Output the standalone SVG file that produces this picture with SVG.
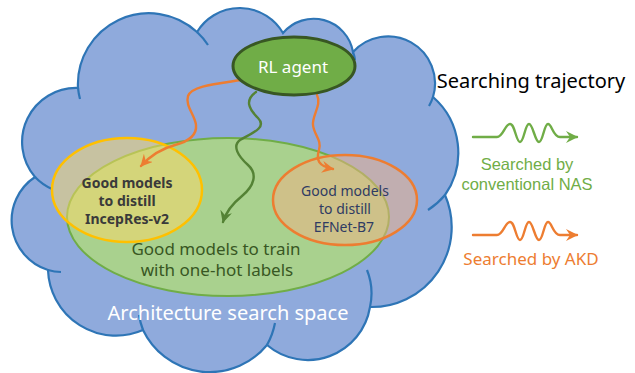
<svg xmlns="http://www.w3.org/2000/svg" width="635" height="373" viewBox="0 0 635 373">
<style>
text{font-family:"Noto Sans","Open Sans","DejaVu Sans",sans-serif;text-anchor:middle}
.cloud{fill:#8FAADC;stroke:#2E75B6;stroke-width:2.2}
.tail{fill:none;stroke:#2E75B6;stroke-width:2.2}
.conn{fill:none;stroke-width:2.4;stroke-linecap:round}
.or{stroke:#ED7D31}
.gr{stroke:#548235}
.lg{stroke:#70AD47}
.inner{font-size:14px}
.leg{font-family:"Liberation Sans",Arial,sans-serif;font-size:16.5px}
</style>
<defs>
<marker id="ah-or" markerUnits="userSpaceOnUse" markerWidth="13" markerHeight="12" refX="11" refY="6" orient="auto" viewBox="0 0 13 12"><path d="M0,0 L12,6 L0,12 L4,6 Z" fill="#ED7D31"/></marker>
<marker id="ah-gr" markerUnits="userSpaceOnUse" markerWidth="13" markerHeight="12" refX="11" refY="6" orient="auto" viewBox="0 0 13 12"><path d="M0,0 L12,6 L0,12 L4,6 Z" fill="#548235"/></marker>
<marker id="ah-lg" markerUnits="userSpaceOnUse" markerWidth="13" markerHeight="12" refX="11" refY="6" orient="auto" viewBox="0 0 13 12"><path d="M0,0 L12,6 L0,12 L4,6 Z" fill="#70AD47"/></marker>
</defs>

<g id="search-space">
<path class="cloud" d="M78,88 A71,71 0 0 1 197,32 A50,50 0 0 1 283,33 A40,40 0 0 1 353,52 A47,47 0 0 1 433,97 A74,74 0 0 1 445,195 A80,80 0 0 1 370,307 A63,63 0 0 1 267,345 A74,74 0 0 1 143,330 A68,68 0 0 1 48,270 A52,52 0 0 1 35,177 A54,54 0 0 1 78,88 Z"/>
<path class="tail" d="M78,88 A71,71 0 0 0 80,99 M197,32 A71,71 0 0 1 208,45 M353,52 A40,40 0 0 1 355,60 M433,97 A47,47 0 0 1 429,106 M445,195 A74,74 0 0 1 428,210 M370,307 A63,63 0 0 0 367,270 M267,345 A74,74 0 0 0 275,323 M143,330 A74,74 0 0 1 139,315 M48,270 A52,52 0 0 0 61,272 M35,177 A54,54 0 0 0 52,189"/>
<text x="228" y="320" font-size="20" fill="#FFFFFF">Architecture search space</text>
</g>

<g id="onehot">
<ellipse cx="228" cy="217" rx="161" ry="79" fill="#A9D18E" stroke="#70AD47" stroke-width="2"/>
<text x="216" y="255" font-size="17" fill="#385723">Good models to train</text>
<text x="217" y="276" font-size="17" fill="#385723">with one-hot labels</text>
</g>

<g id="inceptres">
<ellipse cx="127" cy="190" rx="75" ry="52" fill="#FFD966" fill-opacity="0.5" stroke="#FFC000" stroke-width="2.5"/>
<text class="inner" x="127" y="188" font-weight="bold" fill="#3A3A3A">Good models</text>
<text class="inner" x="127" y="206" font-weight="bold" fill="#3A3A3A">to distill</text>
<text class="inner" x="127" y="224" font-weight="bold" fill="#3A3A3A">IncepRes-v2</text>
</g>

<g id="efnet">
<ellipse cx="345" cy="200" rx="72" ry="45" fill="#F4B183" fill-opacity="0.5" stroke="#ED7D31" stroke-width="2.5"/>
<text class="inner" x="345" y="196" fill="#2F3B63">Good models</text>
<text class="inner" x="345" y="214" fill="#2F3B63">to distill</text>
<text class="inner" x="344" y="232" fill="#2F3B63">EFNet-B7</text>
</g>

<g id="connectors">
<path class="conn or" marker-end="url(#ah-or)" d="M241,80 C215,84 192,86 188,96 C185,106 195,115 196,125 C197,135 190,141 175,145 C160,149 150,156 141,166"/>
<path class="conn gr" marker-end="url(#ah-gr)" d="M256,92 C245,100 248,108 258,118 C268,128 250,134 240,140 C232,146 238,156 248,165 C258,174 254,186 242,196 C232,204 226,212 223,222"/>
<path class="conn or" marker-end="url(#ah-or)" d="M317,95 C322,105 312,115 313,125 C314,135 322,140 319,150 C316,160 318,166 333,169"/>
</g>

<g id="rl-agent">
<ellipse cx="294" cy="66" rx="61" ry="29" fill="#70AD47" stroke="#385723" stroke-width="3"/>
<text x="293" y="73" font-size="17" fill="#FFFFFF">RL agent</text>
</g>

<g id="legend">
<text x="531" y="88" font-size="20" fill="#000000">Searching trajectory</text>
<path class="conn lg" marker-end="url(#ah-lg)" d="M473,137 L497,137 C503,137 505,124 510,124 C515,124 516,142 520,142 C524,142 525,124 529,124 C533,124 535,142 539,142 C543,142 544,124 548,124 C552,124 553,137 560,137 L577,137"/>
<text class="leg" x="527" y="170" fill="#70AD47">Searched by</text>
<text class="leg" x="527" y="190" fill="#70AD47">conventional NAS</text>
<path class="conn or" marker-end="url(#ah-or)" d="M473,235 L497,235 C503,235 505,222 510,222 C515,222 516,240 520,240 C524,240 525,222 529,222 C533,222 535,240 539,240 C543,240 544,222 548,222 C552,222 553,235 560,235 L577,235"/>
<text x="531" y="265" font-size="17" fill="#ED7D31">Searched by AKD</text>
</g>
</svg>
